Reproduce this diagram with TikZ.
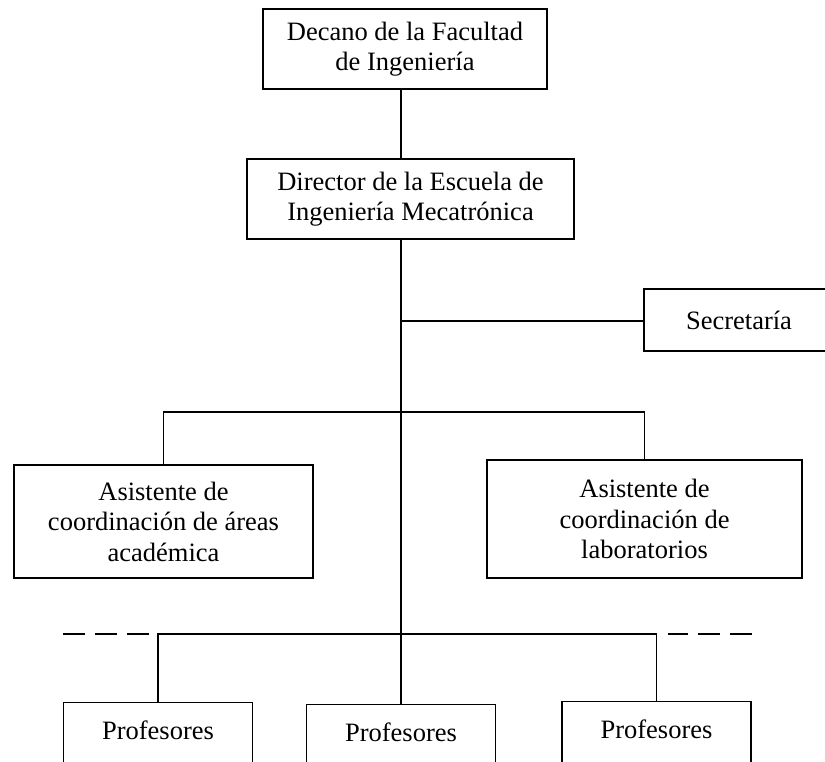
\documentclass[tikz,border=0pt]{standalone}
\usepackage{fontspec}
\setmainfont{Liberation Serif}
\usepackage{tikz}

\tikzset{
  orgbox/.style={
    draw=black,
    line width=1.4pt,
    align=center,
    inner sep=0pt,
    font=\fontsize{26.5}{30.5}\selectfont,
  },
  profbox/.style={
    orgbox,
    anchor=north,
    minimum width=189pt,
    inner ysep=17pt,
    text height=20pt,
    text depth=40pt,
  },
  link/.style={color=black, line width=1.4pt},
  dashline/.style={link, dash pattern=on 22pt off 10pt},
}

\begin{document}
\begin{tikzpicture}[x=1pt, y=-1pt]
  \useasboundingbox (0, 0) rectangle (825, 762);
  \clip (0, 0) rectangle (825, 762);

  \node[orgbox, minimum width=284pt, minimum height=80pt] (decano) at (405, 49)
    {Decano de la Facultad\\de Ingeniería};
  \node[orgbox, minimum width=327pt, minimum height=80pt] (director) at (410.5, 199)
    {Director de la Escuela de\\Ingeniería Mecatrónica};
  \node[orgbox, minimum width=190pt, minimum height=62pt] (secretaria) at (739, 320)
    {Secretaría};
  \node[orgbox, minimum width=299pt, minimum height=113pt] (asisAreas) at (163.5, 521.5)
    {Asistente de\\coordinación de áreas\\académica};
  \node[orgbox, minimum width=315pt, minimum height=118pt] (asisLab) at (644.5, 519)
    {Asistente de\\coordinación de\\laboratorios};
  \node[profbox] (prof1) at (158, 702) {Profesores};
  \node[profbox] (prof2) at (401, 704) {Profesores};
  \node[profbox] (prof3) at (656.5, 701) {Profesores};

  \coordinate (jSec) at (401, 321);
  \coordinate (jAsis) at (401, 412);
  \coordinate (jProf) at (401, 634);
  \coordinate (dashL) at (63, 634);
  \coordinate (dashR) at (752, 634);

  \draw[link] (decano.south -| jSec) -- (director.north -| jSec);
  \draw[link] (director.south -| jSec) -- (prof2.north);
  \draw[link] (jSec) -- (jSec -| secretaria.west);
  \draw[link] (asisAreas.north) |- (jAsis) -| (asisLab.north);
  \draw[link] (prof1.north) |- (jProf) -| (prof3.north);
  \draw[dashline] (dashL) -- (dashL -| prof1.north) [shorten >=6pt];
  \draw[dashline] (dashR) -- (dashR -| prof3.north) [shorten >=11pt];
\end{tikzpicture}
\end{document}
